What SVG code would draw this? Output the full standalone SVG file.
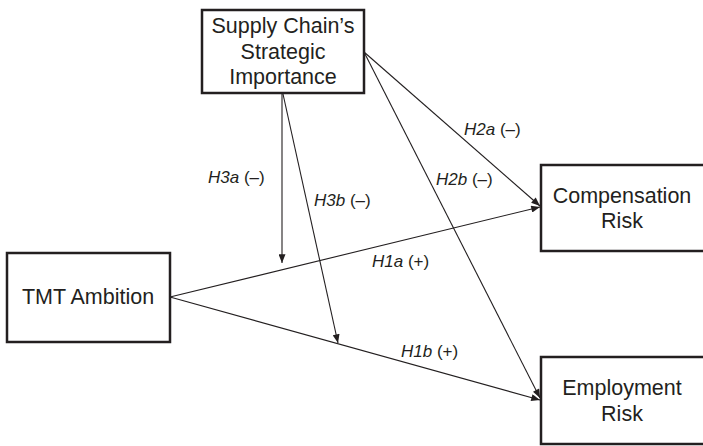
<svg xmlns="http://www.w3.org/2000/svg" width="703" height="446" viewBox="0 0 703 446">
<style>
.box{fill:#fff;stroke:#231f20;stroke-width:2.5}
.t{font-family:"Liberation Sans",Arial,sans-serif;font-size:21.5px;fill:#231f20;text-anchor:middle}
.l{font-family:"Liberation Sans",Arial,sans-serif;font-size:17px;fill:#231f20}
.l tspan.i{font-style:italic}
.c{stroke:#231f20;stroke-width:1.1;fill:none;marker-end:url(#ah)}
</style>
<defs>
<marker id="ah" viewBox="0 0 10 8" refX="10" refY="4" markerWidth="10" markerHeight="7" markerUnits="userSpaceOnUse" orient="auto">
<path d="M0,0 L10,4 L0,8 Z" fill="#231f20"/>
</marker>
</defs>
<rect width="703" height="446" fill="#fff"/>
<g id="connectors">
<line class="c" x1="282" y1="94" x2="282" y2="263"/>
<line class="c" x1="283" y1="94" x2="338" y2="343"/>
<line class="c" x1="170" y1="297" x2="540" y2="207"/>
<line class="c" x1="170" y1="297" x2="540" y2="400"/>
<line class="c" x1="364" y1="52" x2="540" y2="206"/>
<line class="c" x1="364" y1="52" x2="540" y2="398"/>
</g>
<g id="labels">
<text class="l" x="208" y="183"><tspan class="i">H3a</tspan> (–)</text>
<text class="l" x="314" y="206"><tspan class="i">H3b</tspan> (–)</text>
<text class="l" x="464" y="135"><tspan class="i">H2a</tspan> (–)</text>
<text class="l" x="436" y="185"><tspan class="i">H2b</tspan> (–)</text>
<text class="l" x="372" y="267"><tspan class="i">H1a</tspan> (+)</text>
<text class="l" x="401" y="357"><tspan class="i">H1b</tspan> (+)</text>
</g>
<g id="supply">
<rect class="box" x="202" y="10" width="162" height="83"/>
<text class="t" x="283" y="33">Supply Chain’s</text>
<text class="t" x="283" y="59">Strategic</text>
<text class="t" x="283" y="84">Importance</text>
</g>
<g id="tmt">
<rect class="box" x="7" y="253" width="163" height="89"/>
<text class="t" x="88" y="304">TMT Ambition</text>
</g>
<g id="compensation">
<rect class="box" x="541" y="165" width="170" height="86"/>
<text class="t" x="622" y="203">Compensation</text>
<text class="t" x="622" y="228">Risk</text>
</g>
<g id="employment">
<rect class="box" x="541" y="357" width="170" height="87"/>
<text class="t" x="622" y="395">Employment</text>
<text class="t" x="622" y="421">Risk</text>
</g>
</svg>
